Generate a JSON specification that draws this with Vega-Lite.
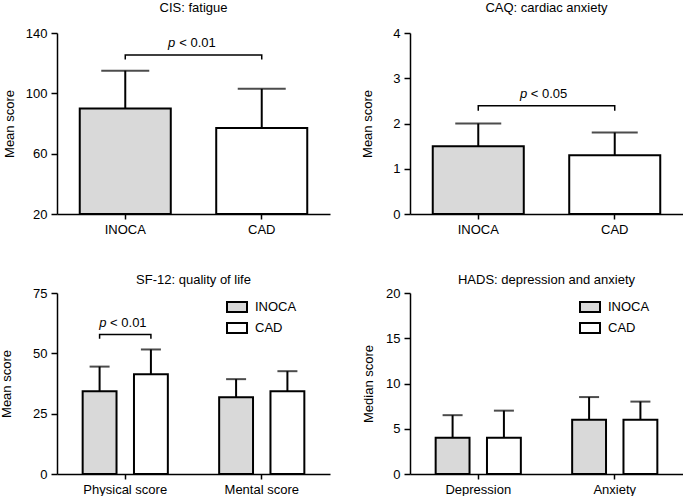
{
  "$schema": "https://vega.github.io/schema/vega-lite/v6.json",
  "background": "white",
  "padding": {"left": 0, "top": 2, "right": 0, "bottom": 0},
  "config": {
    "font": "Liberation Sans",
    "view": {"stroke": null},
    "axis": {"domainColor": "black", "domainWidth": 1.5, "tickColor": "black", "tickWidth": 1.5, "labelColor": "black", "labelFontSize": 13, "labelFont": "Liberation Sans", "titleFont": "Liberation Sans", "titleFontSize": 13, "titleFontWeight": "normal", "titleColor": "black", "grid": false},
    "axisX": {"tickSize": 5, "labelPadding": 4, "labelAngle": 0, "title": null},
    "axisY": {"tickSize": 6, "labelPadding": 4},
    "title": {"fontSize": 13, "fontWeight": "normal", "color": "black", "font": "Liberation Sans"},
    "legend": {"orient": "none", "title": null, "symbolType": "M-1,-0.5H1V0.5H-1Z", "symbolSize": 400, "symbolStrokeColor": "black", "symbolStrokeWidth": 2, "labelFontSize": 13, "labelFont": "Liberation Sans", "labelColor": "black", "labelOffset": 7, "rowPadding": 1},
    "text": {"font": "Liberation Sans", "fontSize": 13, "color": "black"}
  },
  "datasets": {
    "cis": [{"group": "INOCA", "value": 90, "upper": 115}, {"group": "CAD", "value": 77, "upper": 103}],
    "cisBracket": [{"group": "INOCA", "y": 122.5, "o": 1}, {"group": "INOCA", "y": 125.4, "o": 2}, {"group": "CAD", "y": 125.4, "o": 3}, {"group": "CAD", "y": 122.5, "o": 4}],
    "cisText": [{"group": "INOCA", "y": 131, "p": "p", "t": "< 0.01"}],
    "caq": [{"group": "INOCA", "value": 1.5, "upper": 2.0}, {"group": "CAD", "value": 1.3, "upper": 1.8}],
    "caqBracket": [{"group": "INOCA", "y": 2.28, "o": 1}, {"group": "INOCA", "y": 2.39, "o": 2}, {"group": "CAD", "y": 2.39, "o": 3}, {"group": "CAD", "y": 2.28, "o": 4}],
    "caqText": [{"group": "INOCA", "y": 2.56, "p": "p", "t": "< 0.05"}],
    "sf": [
      {"cat": "Physical score", "group": "INOCA", "value": 34.3, "upper": 44.5},
      {"cat": "Physical score", "group": "CAD", "value": 41.3, "upper": 51.6},
      {"cat": "Mental score", "group": "INOCA", "value": 31.8, "upper": 39.3},
      {"cat": "Mental score", "group": "CAD", "value": 34.3, "upper": 42.6}
    ],
    "sfBracket": [
      {"cat": "Physical score", "group": "INOCA", "y": 56.0, "o": 1},
      {"cat": "Physical score", "group": "INOCA", "y": 57.8, "o": 2},
      {"cat": "Physical score", "group": "CAD", "y": 57.8, "o": 3},
      {"cat": "Physical score", "group": "CAD", "y": 56.0, "o": 4}
    ],
    "sfText": [{"cat": "Physical score", "group": "INOCA", "y": 61.0, "p": "p", "t": "< 0.01"}],
    "hads": [
      {"cat": "Depression", "group": "INOCA", "value": 4, "upper": 6.5},
      {"cat": "Depression", "group": "CAD", "value": 4, "upper": 7.0},
      {"cat": "Anxiety", "group": "INOCA", "value": 6, "upper": 8.5},
      {"cat": "Anxiety", "group": "CAD", "value": 6, "upper": 8.0}
    ]
  },
  "resolve": {"scale": {"fill": "independent"}, "legend": {"fill": "independent"}},
  "columns": 2,
  "spacing": {"row": 79, "column": 80},
  "bounds": "flush",
  "concat": [
    {
      "width": 273, "height": 181,
      "title": {"text": "CIS: fatigue", "offset": 12},
      "data": {"name": "cis"},
      "encoding": {
        "x": {"field": "group", "type": "nominal", "sort": ["INOCA", "CAD"], "scale": {"paddingInner": 0.333, "paddingOuter": 0.1667}}
      },
      "layer": [
        {"mark": {"type": "bar", "stroke": "black", "strokeWidth": 2},
         "encoding": {
           "y": {"field": "value", "type": "quantitative", "scale": {"domain": [20, 140], "nice": false, "zero": false}, "axis": {"values": [20, 60, 100, 140], "title": "Mean score", "titlePadding": 9}},
           "y2": {"datum": 20},
           "fill": {"field": "group", "type": "nominal", "scale": {"domain": ["INOCA", "CAD"], "range": ["#d9d9d9", "#ffffff"]}, "legend": null}
         }},
        {"mark": {"type": "rule", "strokeWidth": 2, "color": "black"},
         "encoding": {"y": {"field": "value", "type": "quantitative"}, "y2": {"field": "upper"}}},
        {"mark": {"type": "tick", "size": 48, "thickness": 2, "color": "black"},
         "encoding": {"y": {"field": "upper", "type": "quantitative"}}},
        {"data": {"name": "cisBracket"}, "mark": {"type": "line", "color": "black", "strokeWidth": 1.5},
         "encoding": {"y": {"field": "y", "type": "quantitative"}, "order": {"field": "o"}}},
        {"data": {"name": "cisText"}, "mark": {"type": "text", "fontStyle": "italic", "align": "right", "baseline": "alphabetic", "dx": 50},
         "encoding": {"y": {"field": "y", "type": "quantitative"}, "text": {"field": "p"}}},
        {"data": {"name": "cisText"}, "mark": {"type": "text", "align": "left", "baseline": "alphabetic", "dx": 54},
         "encoding": {"y": {"field": "y", "type": "quantitative"}, "text": {"field": "t"}}}
      ]
    },
    {
      "width": 273, "height": 181,
      "title": {"text": "CAQ: cardiac anxiety", "offset": 12},
      "data": {"name": "caq"},
      "encoding": {
        "x": {"field": "group", "type": "nominal", "sort": ["INOCA", "CAD"], "scale": {"paddingInner": 0.333, "paddingOuter": 0.1667}}
      },
      "layer": [
        {"mark": {"type": "bar", "stroke": "black", "strokeWidth": 2},
         "encoding": {
           "y": {"field": "value", "type": "quantitative", "scale": {"domain": [0, 4], "nice": false}, "axis": {"values": [0, 1, 2, 3, 4], "title": "Mean score", "titlePadding": 18}},
           "fill": {"field": "group", "type": "nominal", "scale": {"domain": ["INOCA", "CAD"], "range": ["#d9d9d9", "#ffffff"]}, "legend": null}
         }},
        {"mark": {"type": "rule", "strokeWidth": 2, "color": "black"},
         "encoding": {"y": {"field": "value", "type": "quantitative"}, "y2": {"field": "upper"}}},
        {"mark": {"type": "tick", "size": 46, "thickness": 2, "color": "black"},
         "encoding": {"y": {"field": "upper", "type": "quantitative"}}},
        {"data": {"name": "caqBracket"}, "mark": {"type": "line", "color": "black", "strokeWidth": 1.5},
         "encoding": {"y": {"field": "y", "type": "quantitative"}, "order": {"field": "o"}}},
        {"data": {"name": "caqText"}, "mark": {"type": "text", "fontStyle": "italic", "align": "right", "baseline": "alphabetic", "dx": 49},
         "encoding": {"y": {"field": "y", "type": "quantitative"}, "text": {"field": "p"}}},
        {"data": {"name": "caqText"}, "mark": {"type": "text", "align": "left", "baseline": "alphabetic", "dx": 52.5},
         "encoding": {"y": {"field": "y", "type": "quantitative"}, "text": {"field": "t"}}}
      ]
    },
    {
      "width": 273, "height": 181,
      "title": {"text": "SF-12: quality of life", "offset": 0},
      "data": {"name": "sf"},
      "encoding": {
        "x": {"field": "cat", "type": "nominal", "sort": ["Physical score", "Mental score"], "scale": {"paddingInner": 0, "paddingOuter": 0}},
        "xOffset": {"field": "group", "type": "nominal", "sort": ["INOCA", "CAD"], "scale": {"paddingInner": 0.34, "paddingOuter": 0.5}}
      },
      "layer": [
        {"mark": {"type": "bar", "stroke": "black", "strokeWidth": 2},
         "encoding": {
           "y": {"field": "value", "type": "quantitative", "scale": {"domain": [0, 75], "nice": false}, "axis": {"values": [0, 25, 50, 75], "title": "Mean score", "titlePadding": 19}},
           "fill": {"field": "group", "type": "nominal", "scale": {"domain": ["INOCA", "CAD"], "range": ["#d9d9d9", "#ffffff"]}, "legend": {"legendX": 169, "legendY": 3}}
         }},
        {"mark": {"type": "rule", "strokeWidth": 2, "color": "black"},
         "encoding": {"y": {"field": "value", "type": "quantitative"}, "y2": {"field": "upper"}}},
        {"mark": {"type": "tick", "size": 20, "thickness": 2, "color": "black"},
         "encoding": {"y": {"field": "upper", "type": "quantitative"}}},
        {"data": {"name": "sfBracket"}, "mark": {"type": "line", "color": "black", "strokeWidth": 1.5},
         "encoding": {"y": {"field": "y", "type": "quantitative"}, "order": {"field": "o"}}},
        {"data": {"name": "sfText"}, "mark": {"type": "text", "fontStyle": "italic", "align": "right", "baseline": "alphabetic", "dx": 7},
         "encoding": {"y": {"field": "y", "type": "quantitative"}, "text": {"field": "p"}}},
        {"data": {"name": "sfText"}, "mark": {"type": "text", "align": "left", "baseline": "alphabetic", "dx": 10.5},
         "encoding": {"y": {"field": "y", "type": "quantitative"}, "text": {"field": "t"}}}
      ]
    },
    {
      "width": 273, "height": 181,
      "title": {"text": "HADS: depression and anxiety", "offset": 0},
      "data": {"name": "hads"},
      "encoding": {
        "x": {"field": "cat", "type": "nominal", "sort": ["Depression", "Anxiety"], "scale": {"paddingInner": 0, "paddingOuter": 0}},
        "xOffset": {"field": "group", "type": "nominal", "sort": ["INOCA", "CAD"], "scale": {"paddingInner": 0.34, "paddingOuter": 0.5}}
      },
      "layer": [
        {"mark": {"type": "bar", "stroke": "black", "strokeWidth": 2},
         "encoding": {
           "y": {"field": "value", "type": "quantitative", "scale": {"domain": [0, 20], "nice": false}, "axis": {"values": [0, 5, 10, 15, 20], "title": "Median score", "titlePadding": 10}},
           "fill": {"field": "group", "type": "nominal", "scale": {"domain": ["INOCA", "CAD"], "range": ["#d9d9d9", "#ffffff"]}, "legend": {"legendX": 169, "legendY": 3}}
         }},
        {"mark": {"type": "rule", "strokeWidth": 2, "color": "black"},
         "encoding": {"y": {"field": "value", "type": "quantitative"}, "y2": {"field": "upper"}}},
        {"mark": {"type": "tick", "size": 20, "thickness": 2, "color": "black"},
         "encoding": {"y": {"field": "upper", "type": "quantitative"}}}
      ]
    }
  ]
}
